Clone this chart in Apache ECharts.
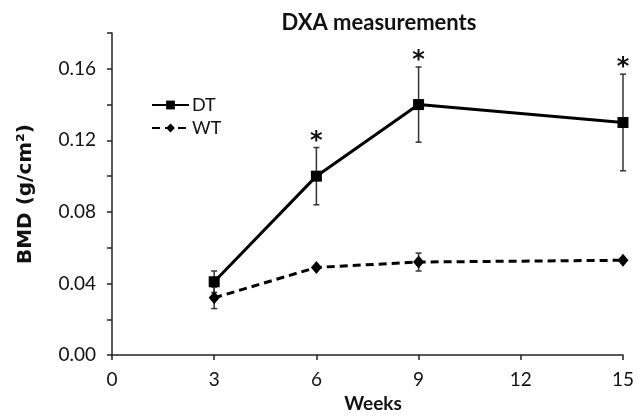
<!DOCTYPE html>
<html>
<head>
<meta charset="utf-8" />
<title>DXA measurements</title>
<script src="https://cdn.jsdelivr.net/npm/echarts@6/dist/echarts.min.js"></script>
<style>
  body { margin: 0; background: #fff; }
</style>
</head>
<body>
<div id="main" style="width: 637px; height: 418px;"></div>
<script type="text/javascript">
// data
var weeks = [3, 6, 9, 15];
var dtMean = [0.041, 0.100, 0.140, 0.130];
var dtErr = [0.006, 0.016, 0.021, 0.027];
var wtMean = [0.032, 0.049, 0.052, 0.053];
var wtErr = [0.006, 0.001, 0.005, 0.001];
var dtSignif = [false, true, true, true];

var font = 'Lato, "Open Sans", sans-serif';

function pairs(xs, ys) {
    return xs.map(function (x, i) { return [x, ys[i]]; });
}
function bars(xs, ys, es) {
    return xs.map(function (x, i) { return [x, ys[i] - es[i], ys[i] + es[i]]; });
}

var starData = [];
weeks.forEach(function (w, i) {
    if (dtSignif[i]) starData.push([w, dtMean[i] + dtErr[i]]);
});

// vertical error bar with small caps
function renderErr(params, api) {
    var lo = api.coord([api.value(0), api.value(1)]);
    var hi = api.coord([api.value(0), api.value(2)]);
    var w = 3;
    var st = { stroke: '#333', lineWidth: 1.5 };
    return {
        type: 'group',
        children: [
            { type: 'line', shape: { x1: lo[0], y1: lo[1], x2: hi[0], y2: hi[1] }, style: st },
            { type: 'line', shape: { x1: lo[0] - w, y1: lo[1], x2: lo[0] + w, y2: lo[1] }, style: st },
            { type: 'line', shape: { x1: hi[0] - w, y1: hi[1], x2: hi[0] + w, y2: hi[1] }, style: st }
        ]
    };
}

// asterisk above the bar top
function renderStar(params, api) {
    var p = api.coord([api.value(0), api.value(1)]);
    return {
        type: 'text',
        style: {
            x: p[0], y: p[1] - 6,
            text: '*',
            fill: '#111',
            font: 'bold 24px "DejaVu Sans"',
            textAlign: 'center',
            textVerticalAlign: 'middle'
        }
    };
}

var myChart = echarts.init(document.getElementById('main'));
var option = {
    animation: false,
    title: {
        text: 'DXA measurements',
        left: 374,
        textAlign: 'center',
        top: 7,
        textStyle: { fontFamily: font, fontSize: 22, fontWeight: 'bold', color: '#111' }
    },
    legend: {
        orient: 'vertical',
        left: 146,
        top: 91,
        itemWidth: 37,
        itemHeight: 11,
        itemGap: 5,
        textStyle: { fontFamily: font, fontSize: 18, color: '#111', padding: [0, 0, 0, -2] },
        data: ['DT', 'WT']
    },
    grid: { left: 112, right: 13, top: 33, bottom: 57, containLabel: false },
    xAxis: {
        type: 'value',
        min: 0, max: 15, interval: 3,
        name: 'Weeks',
        nameLocation: 'middle',
        nameGap: 38,
        nameTextStyle: { fontFamily: font, fontSize: 19, fontWeight: 'bold', color: '#111', padding: [0, 0, 0, 11] },
        splitLine: { show: false },
        axisLine: { lineStyle: { color: '#222', width: 1.5 } },
        axisTick: { length: 5, lineStyle: { color: '#222', width: 1.5 } },
        axisLabel: { fontFamily: font, fontSize: 19, color: '#111', margin: 15 }
    },
    yAxis: {
        type: 'value',
        min: 0, max: 0.18, interval: 0.02,
        name: 'BMD (g/cm²)',
        nameLocation: 'middle',
        nameGap: 76,
        nameTextStyle: { fontFamily: '"DejaVu Sans"', fontSize: 20, fontWeight: 'bold', color: '#111' },
        splitLine: { show: false },
        axisLine: { show: true, lineStyle: { color: '#222', width: 1.5 } },
        axisTick: { show: true, length: 5, lineStyle: { color: '#222', width: 1.5 } },
        axisLabel: {
            fontFamily: font, fontSize: 19, color: '#111', margin: 16,
            formatter: function (v) {
                return Math.round(v * 100) % 4 === 0 ? v.toFixed(2) : '';
            }
        }
    },
    series: [
        {
            name: 'DT-err', type: 'custom', renderItem: renderErr,
            data: bars(weeks, dtMean, dtErr), z: 1, silent: true
        },
        {
            name: 'WT-err', type: 'custom', renderItem: renderErr,
            data: bars(weeks, wtMean, wtErr), z: 1, silent: true
        },
        {
            name: 'DT', type: 'line',
            data: pairs(weeks, dtMean),
            symbol: 'rect', symbolSize: 11,
            itemStyle: { color: '#000' },
            lineStyle: { color: '#000', width: 3 },
            z: 3
        },
        {
            name: 'WT', type: 'line',
            data: pairs(weeks, wtMean),
            symbol: 'diamond', symbolSize: [11, 13],
            itemStyle: { color: '#000' },
            lineStyle: { color: '#000', width: 3, type: [8, 5] },
            z: 3
        },
        {
            name: 'stars', type: 'custom', renderItem: renderStar,
            data: starData, z: 4, silent: true
        }
    ]
};
myChart.setOption(option);
</script>
</body>
</html>
